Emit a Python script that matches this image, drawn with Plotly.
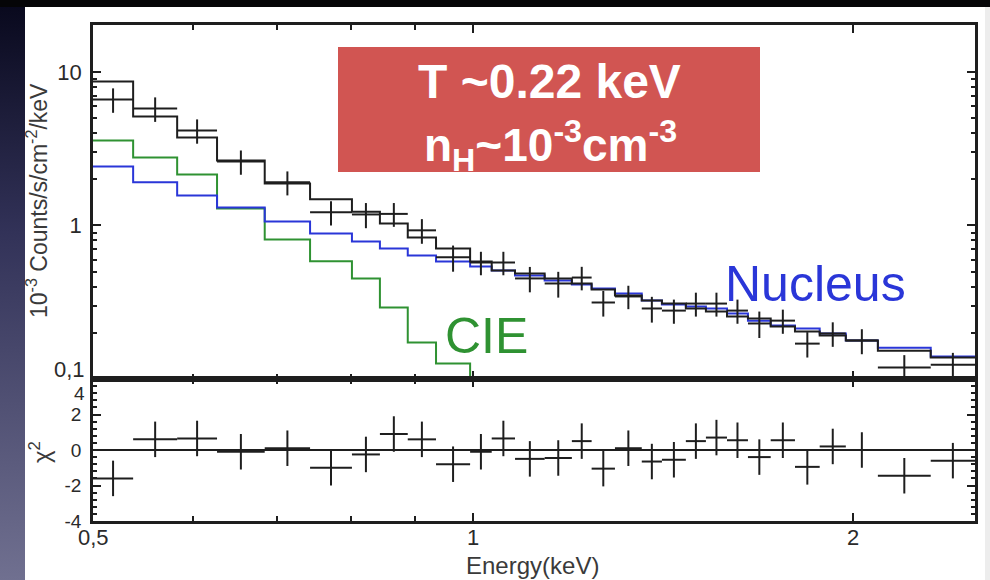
import plotly.graph_objects as go
import numpy as np

# ---------------- data ----------------
edges = [0.5, 0.538, 0.583, 0.627, 0.684, 0.743, 0.802, 0.844, 0.888, 0.935,
         0.995, 1.035, 1.080, 1.140, 1.198, 1.242, 1.296, 1.361, 1.412, 1.475,
         1.530, 1.590, 1.652, 1.722, 1.800, 1.883, 1.975, 2.094, 2.306, 2.50]

data_counts = [6.62, 5.78, 4.16, 2.61, 1.91, 1.22, 1.18, 1.19, 0.93, 0.62,
               0.574, 0.574, 0.452, 0.419, 0.458, 0.315, 0.345, 0.288, 0.279, 0.310,
               0.310, 0.279, 0.230, 0.240, 0.170, 0.198, 0.178, 0.119, 0.124]
data_err = [1.2, 1.05, 0.75, 0.47, 0.34, 0.22, 0.22, 0.21, 0.17, 0.12,
            0.10, 0.10, 0.085, 0.08, 0.08, 0.06, 0.06, 0.055, 0.05, 0.055,
            0.055, 0.05, 0.045, 0.043, 0.032, 0.036, 0.033, 0.024, 0.024]
model_total = [8.67, 5.13, 3.74, 2.65, 1.88, 1.48, 1.23, 1.03, 0.835, 0.708,
               0.583, 0.509, 0.487, 0.452, 0.419, 0.383, 0.350, 0.325, 0.310, 0.288,
               0.275, 0.255, 0.248, 0.220, 0.204, 0.192, 0.178, 0.153, 0.138]
nucleus_model = [2.42, 1.91, 1.57, 1.31, 1.06, 0.887, 0.787, 0.708, 0.638, 0.583,
                 0.541, 0.509, 0.472, 0.438, 0.413, 0.389, 0.361, 0.325, 0.306, 0.297,
                 0.288, 0.267, 0.240, 0.223, 0.213, 0.198, 0.178, 0.160, 0.140]
cie_model = [3.58, 2.77, 2.15, 1.29, 0.811, 0.585, 0.452, 0.292, 0.173, 0.126, 0.05]

chi_resid = [-1.6, 0.6, 0.65, -0.1, 0.1, -1.0, -0.25, 0.9, 0.6, -0.8,
             -0.1, 0.65, -0.5, -0.45, 0.5, -1.05, 0.1, -0.65, -0.55, 0.5,
             0.7, 0.55, -0.4, 0.55, -0.95, 0.2, 0.0, -1.45, -0.6]
chi_err = [1.0] * 29

x_ticks = [0.5, 1, 2]
x_ticklabels = ["0,5", "1", "2"]
y_ticks = [0.1, 1, 10]
y_ticklabels = ["0,1", "1", "10"]
r_ticks = [-4, -2, 0, 2, 4]
r_ticklabels = ["-4", "-2", "0", "2", "4"]

# ---------------- styling ----------------
W, H = 990, 580
BLACK = "#1e1e1e"
GREEN = "#2f9232"
BLUE = "#2a36d8"
RED = "#d15552"
FONT = "Liberation Sans, Arial, Helvetica, sans-serif"
TICKCOL = "#2a2a2a"


def px(x):
    return x / W


def py(y):
    return 1 - y / H


lo = np.array(edges[:-1])
hi = np.array(edges[1:])
ctr = np.sqrt(lo * hi)


def step(vals):
    n = len(vals)
    xs = edges[:n + 1]
    ys = list(vals) + [vals[-1]]
    return xs, ys


fig = go.Figure()

# slide decoration: dark gradient strip on the left (own hidden axes)
fig.add_trace(go.Scatter(
    x=[0, 1, 1, 0, 0], y=[0, 0, 1, 1, 0], mode="lines", line=dict(width=0),
    fill="toself", fillcolor="rgb(40,40,70)",
    fillgradient=dict(type="vertical",
                      colorscale=[[0, "rgb(112,112,144)"], [0.6, "rgb(50,50,88)"],
                                  [1, "rgb(8,8,28)"]]),
    xaxis="x3", yaxis="y3", hoverinfo="skip"))

for vals, col in [(cie_model, GREEN), (nucleus_model, BLUE), (model_total, BLACK)]:
    xs, ys = step(vals)
    fig.add_trace(go.Scatter(x=xs, y=ys, mode="lines",
                             line=dict(shape="hv", color=col, width=2),
                             xaxis="x", yaxis="y", hoverinfo="skip"))

fig.add_trace(go.Scatter(
    x=ctr, y=data_counts, mode="markers", marker=dict(size=1, color=BLACK),
    error_x=dict(type="data", symmetric=False, array=hi - ctr, arrayminus=ctr - lo,
                 thickness=2, width=0, color=BLACK),
    error_y=dict(type="data", array=data_err, thickness=2, width=0, color=BLACK),
    xaxis="x", yaxis="y"))

fig.add_trace(go.Scatter(
    x=ctr, y=chi_resid, mode="markers", marker=dict(size=1, color=BLACK),
    error_x=dict(type="data", symmetric=False, array=hi - ctr, arrayminus=ctr - lo,
                 thickness=2, width=0, color=BLACK),
    error_y=dict(type="data", array=chi_err, thickness=2, width=0, color=BLACK),
    xaxis="x2", yaxis="y2"))

xdom = [px(93), px(975)]
up_dom = [py(379), py(25)]
lo_dom = [py(521), py(379)]

common_x = dict(type="log", range=[np.log10(0.5), np.log10(2.5)], domain=xdom,
                automargin=False,
                showgrid=False, zeroline=False, showline=True, linecolor=BLACK,
                linewidth=2.5, mirror="ticks", ticks="inside", ticklen=8,
                tickwidth=2, tickcolor=BLACK, tickmode="array", tickvals=x_ticks,
                showticklabels=False,
                minor=dict(tickmode="array", tickvals=[0.6, 0.7, 0.8, 0.9],
                           ticks="inside", ticklen=5, tickwidth=2, tickcolor=BLACK))

minor_up = [0.2, 0.3, 0.4, 0.5, 0.6, 0.7, 0.8, 0.9, 2, 3, 4, 5, 6, 7, 8, 9, 20]
minor_lo = [v for v in np.round(np.arange(-3.6, 3.7, 0.4), 2) if abs(v % 2) > 1e-6]

hidden = dict(visible=False, showgrid=False, zeroline=False, automargin=False,
              fixedrange=True)

fig.update_layout(
    template="none",
    width=W, height=H, margin=dict(l=0, r=0, t=0, b=0, pad=0),
    paper_bgcolor="white", plot_bgcolor="white", showlegend=False,
    font=dict(family=FONT, size=22, color=TICKCOL),
    xaxis=dict(common_x, anchor="y"),
    xaxis2=dict(common_x, anchor="y2", matches="x"),
    yaxis=dict(type="log", range=[-1, 1.306], domain=up_dom, anchor="x",
               automargin=False,
               showgrid=False, zeroline=False, showline=True, linecolor=BLACK,
               linewidth=2.5, mirror="ticks", ticks="inside", ticklen=8,
               tickwidth=2, tickcolor=BLACK, tickmode="array", tickvals=y_ticks,
               ticktext=[""] + y_ticklabels[1:], tickfont=dict(size=22, color=TICKCOL),
               ticklabelstandoff=4,
               minor=dict(tickmode="array", tickvals=minor_up, ticks="inside",
                          ticklen=4, tickwidth=2, tickcolor=BLACK)),
    yaxis2=dict(range=[-4, 4], domain=lo_dom, anchor="x2",
                automargin=False,
                showgrid=False, zeroline=False, showline=True, linecolor=BLACK,
                linewidth=2.5, mirror="ticks", ticks="inside", ticklen=8,
                tickwidth=2, tickcolor=BLACK, tickmode="array", tickvals=r_ticks,
                ticktext=r_ticklabels[:-1] + [""], tickfont=dict(size=19, color=TICKCOL),
                ticklabelstandoff=5,
                minor=dict(tickmode="array", tickvals=minor_lo, ticks="inside",
                           ticklen=4, tickwidth=1.5, tickcolor=BLACK)),
    xaxis3=dict(hidden, domain=[0, px(25)], range=[0, 1], anchor="y3"),
    yaxis3=dict(hidden, domain=[0, 1], range=[0, 1], anchor="x3"),
)

shapes = []
# zero line of residual panel
shapes.append(dict(type="line", xref="x2 domain", x0=0, x1=1, yref="y2", y0=0, y1=0,
                   line=dict(color=BLACK, width=2)))
# red box
shapes.append(dict(type="rect", xref="paper", yref="paper", x0=px(338), x1=px(760),
                   y0=py(172), y1=py(47), fillcolor=RED, line=dict(width=0)))
# top black band
shapes.append(dict(type="rect", xref="paper", yref="paper", x0=0, x1=1,
                   y0=py(7), y1=1, fillcolor="#050507", line=dict(width=0)))
shapes.append(dict(type="rect", xref="paper", yref="paper", x0=px(985), x1=1,
                   y0=0, y1=py(7), fillcolor="#ededed", line=dict(width=0)))
fig.update_layout(shapes=shapes)

ann = []
ann.append(dict(text="<b>T ~0.22 keV</b>", x=px(549), y=py(82), xref="paper", yref="paper",
                showarrow=False, font=dict(size=48, color="white", family=FONT),
                xanchor="center", yanchor="middle"))
ann.append(dict(text="<b>n<sub>H</sub>~10<sup>-3</sup>cm<sup>-3</sup></b>", x=px(550), y=py(146),
                xref="paper", yref="paper", showarrow=False,
                font=dict(size=46, color="white", family=FONT),
                xanchor="center", yanchor="middle"))
ann.append(dict(text="Nucleus", x=px(815), y=py(284), xref="paper", yref="paper",
                showarrow=False, font=dict(size=50, color=BLUE, family=FONT),
                xanchor="center", yanchor="middle"))
ann.append(dict(text="CIE", x=px(486), y=py(336), xref="paper", yref="paper",
                showarrow=False, font=dict(size=50, color=GREEN, family=FONT),
                xanchor="center", yanchor="middle"))
ann.append(dict(text="10<sup>-3</sup> Counts/s/cm<sup>-2</sup>/keV", x=px(37), y=py(201),
                xref="paper", yref="paper", showarrow=False, textangle=-90,
                font=dict(size=23, color="#3a3a3a", family=FONT),
                xanchor="center", yanchor="middle"))
ann.append(dict(text="χ<sup>2</sup>", x=px(40), y=py(452), xref="paper", yref="paper",
                showarrow=False, textangle=-90,
                font=dict(size=24, color="#3a3a3a", family=FONT),
                xanchor="center", yanchor="middle"))
ann.append(dict(text="Energy(keV)", x=px(532), y=py(565), xref="paper", yref="paper",
                showarrow=False, font=dict(size=24, color="#3a3a3a", family=FONT),
                xanchor="center", yanchor="middle"))
# x tick labels (placed at the data positions of the ticks)
for tv, tt in zip(x_ticks, x_ticklabels):
    ann.append(dict(text=tt, x=np.log10(tv), xref="x2", y=py(537), yref="paper",
                    showarrow=False, font=dict(size=22, color=TICKCOL, family=FONT),
                    xanchor="center", yanchor="middle"))
ann.append(dict(text=y_ticklabels[0], x=px(87), y=py(369), xref="paper", yref="paper",
                showarrow=False, font=dict(size=22, color=TICKCOL, family=FONT),
                xanchor="right", yanchor="middle"))
ann.append(dict(text=r_ticklabels[-1], x=px(87), y=py(393), xref="paper", yref="paper",
                showarrow=False, font=dict(size=19, color=TICKCOL, family=FONT),
                xanchor="right", yanchor="middle"))
fig.update_layout(annotations=ann)

fig.write_html("out.html", config={"displayModeBar": False},
               post_script="document.body.style.margin='0px';document.body.style.overflow='hidden';")
